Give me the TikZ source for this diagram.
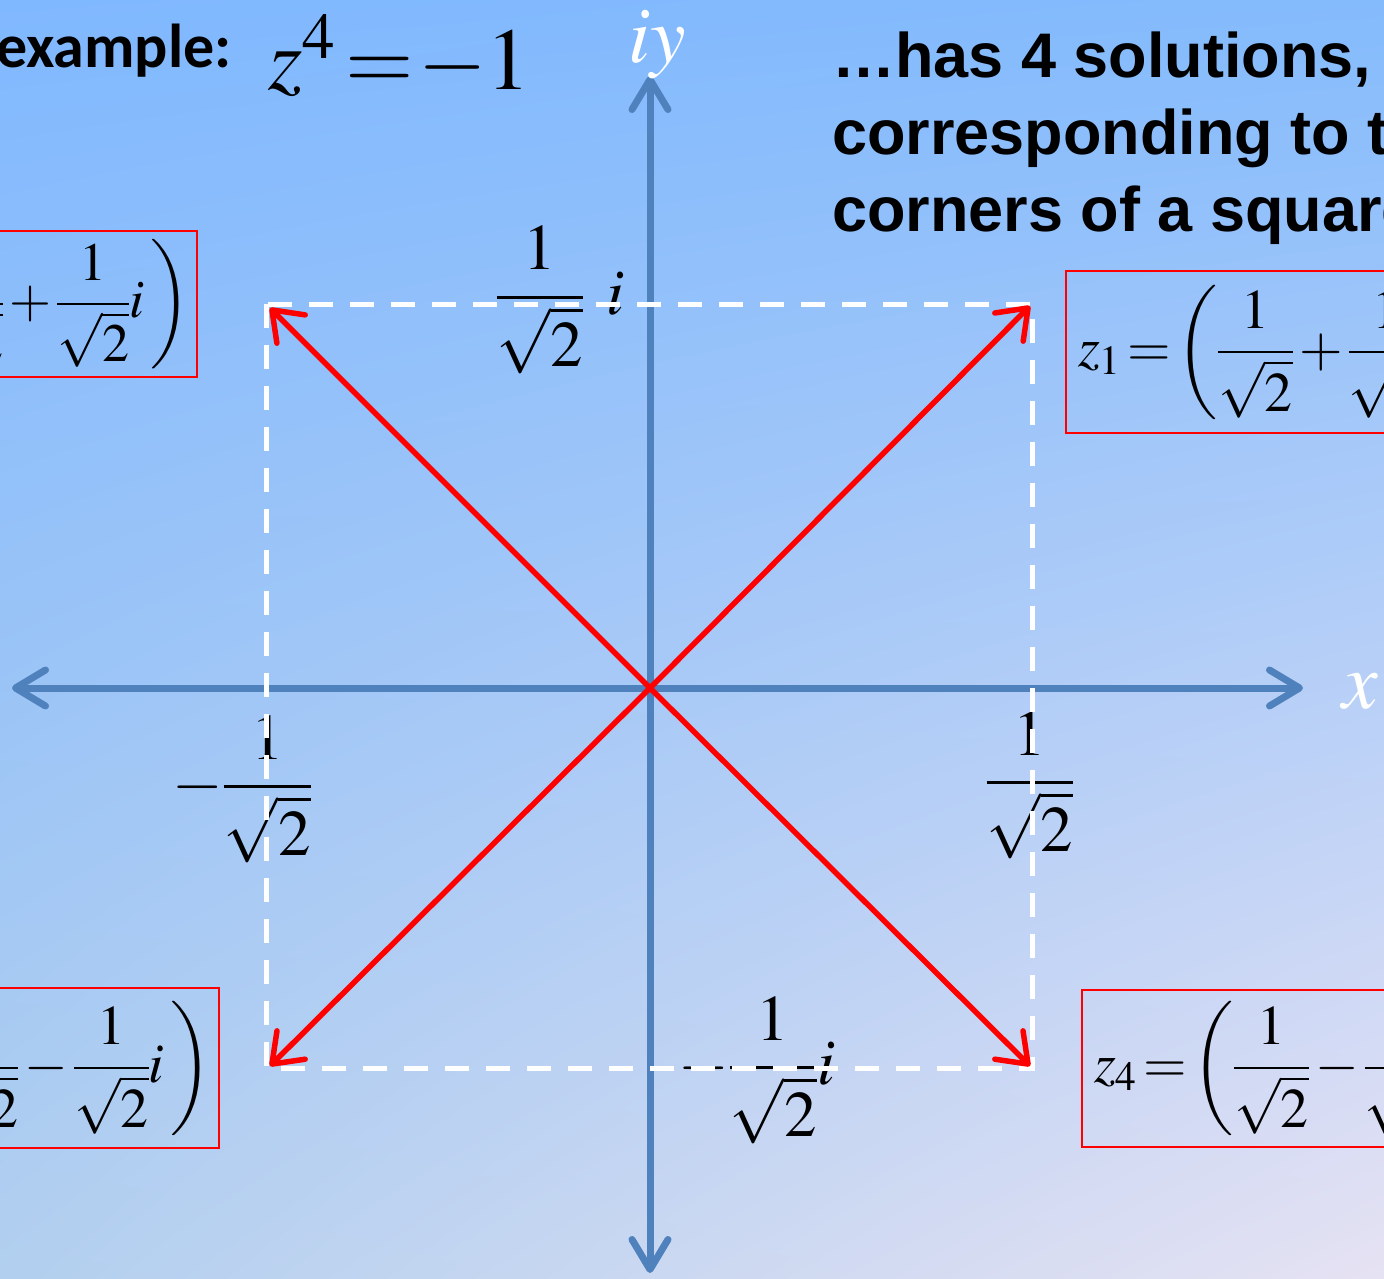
\documentclass[tikz,border=0pt]{standalone}
\usepackage{amsmath}
\usepackage{mathptmx}
\usepackage{fontspec}
\newfontfamily\headfont{Liberation Sans}
\newfontfamily\calfont{Carlito}
\usetikzlibrary{arrows.meta, shadings}
\definecolor{cbgtl}{HTML}{80B8FF}
\definecolor{cbgtr}{HTML}{84BBFC}
\definecolor{cbgbl}{HTML}{B2CFEF}
\definecolor{cbgbr}{HTML}{E6E2F3}
\definecolor{caxis}{HTML}{4F81BD}
\definecolor{cred}{HTML}{FF0000}
\tikzset{
  every picture/.style={x=1pt, y=-1pt},
  axis/.style={{Straight Barb[length=30pt,width=36pt,round]}-{Straight Barb[length=30pt,width=36pt,round]}, draw=caxis, line width=7pt},
  root/.style={-{Straight Barb[length=27pt,width=40pt,round]}, draw=cred, line width=5.5pt, line cap=round},
  frame/.style={draw=white, line width=5pt, dash pattern=on 24pt off 17pt},
  solbox/.style={draw=cred, line width=2pt, inner xsep=12pt, inner ysep=0pt, minimum height=#1,
    execute at begin node={\thickmuskip=2mu\medmuskip=2mu\nulldelimiterspace=0pt}},
  lbl/.style={inner sep=0pt, font=\fontsize{#1}{#1}\selectfont},
  lbl/.default=65,
}

\begin{document}
\begin{tikzpicture}
  \useasboundingbox (0,0) rectangle (1384,1279);
  \clip (0,0) rectangle (1384,1279);
  \shade[upper left=cbgtl, upper right=cbgtr, lower left=cbgbl, lower right=cbgbr] (0,0) rectangle (1384,1279);
  \coordinate (O) at (650,688);
  \coordinate (xl) at (12,688); \coordinate (xr) at (1303,688);
  \coordinate (yt) at (650,76); \coordinate (yb) at (650,1273);
  \coordinate (sqa) at (266,304); \coordinate (sqb) at (1032,1068);
  \coordinate (c1) at (1030,306); \coordinate (c2) at (270,308);
  \coordinate (c3) at (270,1066); \coordinate (c4) at (1030,1066);
  \node[lbl, anchor=base] (lblt) at (560,314) {$\dfrac{1}{\sqrt{2}}\mkern6mu i$};
  \node[lbl, anchor=base] (lbll) at (242,803) {$-\dfrac{1}{\sqrt{2}}$};
  \node[lbl, anchor=base] (lblr) at (1030,799) {$\dfrac{1}{\sqrt{2}}$};
  \node[lbl, anchor=base] (lblb) at (757,1084) {$-\dfrac{1}{\sqrt{2}}i$};
  \draw[axis] (xl) -- (xr);
  \draw[axis] (yb) -- (yt);
  \draw[frame] (sqa) rectangle (sqb);
  \foreach \c in {c1,c2,c3,c4} \draw[root] (O) -- (\c);
  \node[lbl=80, text=white] (iy) at (657,45) {$iy$};
  \node[lbl=80, text=white] (xlab) at (1360,692) {$x$};
  \node[solbox=146pt, inner xsep=7pt, anchor=east, font=\fontsize{54}{54}\selectfont] (z2) at (198,304) {$z_2=\left(-\dfrac{1}{\sqrt{2}}+\dfrac{1}{\sqrt{2}}i\,\right)$};
  \node[solbox=162pt, anchor=west, font=\fontsize{56}{56}\selectfont] (z1) at (1065,352) {$z_1=\left(\dfrac{1}{\sqrt{2}}+\dfrac{1}{\sqrt{2}}i\,\right)$};
  \node[solbox=160pt, inner xsep=7pt, anchor=east, font=\fontsize{56}{56}\selectfont] (z3) at (220,1068) {$z_3=\left(-\dfrac{1}{\sqrt{2}}-\dfrac{1}{\sqrt{2}}i\,\right)$};
  \node[solbox=157pt, anchor=west, font=\fontsize{56}{56}\selectfont] (z4) at (1081,1068) {$z_4=\left(\dfrac{1}{\sqrt{2}}-\dfrac{1}{\sqrt{2}}i\,\right)$};
  \node[inner sep=0pt, anchor=base east, font=\calfont\bfseries\fontsize{62}{70}\selectfont] (ex) at (232,68) {example:};
  \node[lbl=88, anchor=base west] (eq) at (268,90) {$z^{4}\mkern2mu{=}\mkern1mu{-}1$};
  \node[inner sep=0pt, anchor=north west, align=left, font=\headfont\bfseries\fontsize{63}{77}\selectfont] (txt) at (832,32) {…has 4 solutions,\\corresponding to the\\corners of a square};
\end{tikzpicture}
\end{document}
